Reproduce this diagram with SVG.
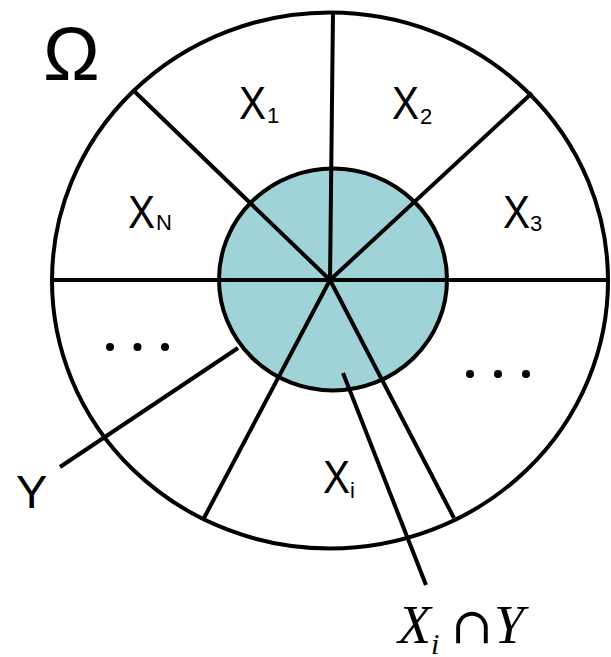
<svg xmlns="http://www.w3.org/2000/svg" width="611" height="657" viewBox="0 0 611 657">
<style>
.ln{stroke:#000;stroke-width:4;fill:none;stroke-linecap:butt}
.sans{font-family:"Liberation Sans",Arial,sans-serif;fill:#000}
.serif{font-family:"Liberation Serif","Times New Roman",serif;fill:#000}
.x{font-size:46px}
.sub{font-size:22px}
.dot{fill:#000}
</style>
<rect width="611" height="657" fill="#fff"/>
<g id="omega-set">
<ellipse cx="330" cy="280.5" rx="278" ry="268" fill="#fff" stroke="#000" stroke-width="4"/>
</g>
<g id="Y-set">
<ellipse cx="333" cy="279.5" rx="114" ry="111" fill="#A0D3D8" stroke="#000" stroke-width="4"/>
</g>
<g id="connectors">
<line class="ln" x1="52" y1="280" x2="608" y2="280"/>
<line class="ln" x1="333" y1="12" x2="330" y2="280"/>
<line class="ln" x1="133" y1="90" x2="330" y2="280"/>
<line class="ln" x1="532" y1="93" x2="330" y2="280"/>
<line class="ln" x1="204" y1="518" x2="330" y2="280"/>
<line class="ln" x1="454" y1="518" x2="330" y2="280"/>
<line class="ln" x1="60" y1="467" x2="238" y2="348"/>
<line class="ln" x1="343" y1="373" x2="426" y2="585"/>
</g>
<g id="label-omega"><text class="sans" x="43" y="80" font-size="76">Ω</text></g>
<g id="label-X1"><text class="sans x" transform="translate(239,119) scale(0.88,1)">X</text><text class="sans sub" x="267" y="123">1</text></g>
<g id="label-X2"><text class="sans x" transform="translate(392,119) scale(0.88,1)">X</text><text class="sans sub" x="420" y="124">2</text></g>
<g id="label-X3"><text class="sans x" transform="translate(503,228) scale(0.88,1)">X</text><text class="sans sub" x="530" y="231">3</text></g>
<g id="label-XN"><text class="sans x" transform="translate(128,228) scale(0.88,1)">X</text><text class="sans sub" x="156" y="230">N</text></g>
<g id="label-Xi"><text class="sans x" transform="translate(323,493) scale(0.88,1)">X</text><text class="sans sub" x="350" y="498">i</text></g>
<g id="dots-left"><circle class="dot" cx="110" cy="347" r="4"/><circle class="dot" cx="137.5" cy="347" r="4"/><circle class="dot" cx="165" cy="347" r="4"/></g>
<g id="dots-right"><circle class="dot" cx="470" cy="374" r="4"/><circle class="dot" cx="498" cy="374" r="4"/><circle class="dot" cx="526" cy="374" r="4"/></g>
<g id="label-Y"><text class="sans" x="16" y="508" font-size="47">Y</text></g>
<g id="label-XiY">
<text class="serif" x="398" y="643" font-size="54" font-style="italic">X</text>
<text class="serif" x="431" y="654" font-size="30" font-style="italic">i</text>
<text x="451" y="643" font-size="50" font-family="'DejaVu Serif','DejaVu Sans',serif">∩</text>
<text class="serif" x="494" y="643" font-size="54" font-style="italic">Y</text>
</g>
</svg>
